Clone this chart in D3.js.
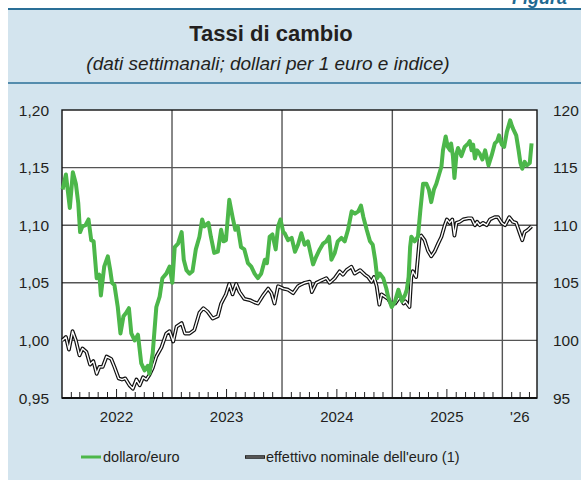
<!DOCTYPE html>
<html><head><meta charset="utf-8">
<script src="https://cdn.jsdelivr.net/npm/d3@7"></script>
<style>html,body{margin:0;padding:0;background:#fff;}svg{display:block;}</style>
</head><body>
<svg id="c" width="581" height="482"></svg>
<script>
const usdDates = ["2022-01-03","2022-01-14","2022-01-27","2022-02-06","2022-02-16","2022-02-24","2022-03-02","2022-03-10","2022-03-20","2022-03-30","2022-04-08","2022-04-16","2022-04-26","2022-05-05","2022-05-10","2022-05-21","2022-06-02","2022-06-10","2022-06-16","2022-06-24","2022-07-05","2022-07-14","2022-07-24","2022-08-02","2022-08-11","2022-08-19","2022-08-30","2022-09-10","2022-09-21","2022-10-02","2022-10-13","2022-10-18","2022-10-29","2022-11-10","2022-11-21","2022-11-30","2022-12-13","2022-12-24","2023-01-02","2023-01-10","2023-01-21","2023-02-02","2023-02-09","2023-02-18","2023-02-28","2023-03-10","2023-03-21","2023-04-02","2023-04-11","2023-04-18","2023-05-02","2023-05-10","2023-05-21","2023-06-02","2023-06-13","2023-06-21","2023-06-29","2023-07-10","2023-07-21","2023-07-30","2023-08-07","2023-08-18","2023-08-29","2023-09-10","2023-09-21","2023-10-02","2023-10-13","2023-10-24","2023-11-05","2023-11-12","2023-11-21","2023-11-30","2023-12-11","2023-12-19","2023-12-27","2024-01-05","2024-01-10","2024-01-21","2024-02-02","2024-02-13","2024-02-23","2024-03-05","2024-03-16","2024-03-27","2024-04-13","2024-04-24","2024-05-05","2024-05-16","2024-05-27","2024-06-05","2024-06-13","2024-06-24","2024-07-04","2024-07-16","2024-07-27","2024-08-07","2024-08-19","2024-08-30","2024-09-10","2024-09-19","2024-09-27","2024-10-08","2024-10-19","2024-10-28","2024-11-05","2024-11-12","2024-11-20","2024-12-02","2024-12-12","2024-12-18","2024-12-30","2025-01-10","2025-01-21","2025-02-02","2025-02-13","2025-02-18","2025-02-24","2025-03-01","2025-03-05","2025-03-16","2025-03-27","2025-04-04","2025-04-13","2025-04-24","2025-05-02","2025-05-10","2025-05-19","2025-05-27","2025-06-05","2025-06-13","2025-06-18","2025-06-27","2025-07-04","2025-07-12","2025-07-15","2025-07-21","2025-07-26","2025-08-02","2025-08-07","2025-08-18","2025-08-29","2025-09-10","2025-09-15","2025-09-21","2025-09-26","2025-10-02","2025-10-09","2025-10-18","2025-10-27","2025-11-05","2025-11-16","2025-11-27","2025-12-07","2025-12-15","2025-12-21","2025-12-30","2026-01-07","2026-01-16","2026-01-27","2026-02-02","2026-02-07","2026-02-16","2026-02-24","2026-03-02","2026-03-08","2026-03-16","2026-03-23","2026-04-02","2026-04-08"];
const usdRates = [1.131,1.144,1.115,1.146,1.136,1.119,1.094,1.099,1.100,1.105,1.087,1.086,1.054,1.057,1.039,1.064,1.073,1.061,1.050,1.048,1.029,1.006,1.021,1.024,1.028,1.006,1.000,1.005,0.980,0.974,0.978,0.971,0.989,1.029,1.038,1.054,1.058,1.064,1.050,1.081,1.084,1.094,1.070,1.061,1.058,1.060,1.079,1.090,1.105,1.099,1.102,1.090,1.076,1.077,1.096,1.086,1.087,1.122,1.107,1.096,1.099,1.081,1.079,1.067,1.064,1.058,1.054,1.058,1.070,1.067,1.090,1.092,1.079,1.099,1.105,1.094,1.093,1.087,1.089,1.077,1.083,1.093,1.083,1.086,1.066,1.073,1.079,1.084,1.086,1.090,1.070,1.076,1.086,1.089,1.086,1.096,1.112,1.110,1.112,1.117,1.107,1.096,1.086,1.083,1.070,1.054,1.058,1.054,1.045,1.038,1.029,1.034,1.044,1.034,1.040,1.044,1.055,1.081,1.090,1.086,1.090,1.113,1.136,1.136,1.131,1.120,1.131,1.136,1.144,1.151,1.165,1.177,1.168,1.165,1.171,1.160,1.141,1.162,1.167,1.160,1.168,1.171,1.173,1.165,1.170,1.158,1.165,1.162,1.157,1.165,1.152,1.161,1.171,1.173,1.178,1.170,1.168,1.181,1.191,1.186,1.183,1.178,1.165,1.154,1.149,1.155,1.152,1.154,1.171];

const neerDates = ["2022-01-02","2022-01-14","2022-01-24","2022-02-05","2022-02-16","2022-02-28","2022-03-10","2022-03-23","2022-04-04","2022-04-15","2022-04-26","2022-05-05","2022-05-16","2022-05-29","2022-06-13","2022-06-24","2022-07-08","2022-07-19","2022-07-30","2022-08-13","2022-08-24","2022-09-05","2022-09-16","2022-09-27","2022-10-08","2022-10-18","2022-10-29","2022-11-10","2022-11-27","2022-12-13","2022-12-24","2023-01-05","2023-01-16","2023-02-02","2023-02-13","2023-02-28","2023-03-16","2023-04-02","2023-04-15","2023-04-29","2023-05-16","2023-06-02","2023-06-13","2023-06-29","2023-07-10","2023-07-21","2023-08-02","2023-08-13","2023-08-29","2023-09-16","2023-10-02","2023-10-13","2023-10-30","2023-11-16","2023-11-27","2023-12-07","2023-12-19","2024-01-05","2024-01-21","2024-02-07","2024-02-23","2024-02-29","2024-03-16","2024-04-02","2024-04-09","2024-04-24","2024-05-10","2024-05-27","2024-06-07","2024-06-24","2024-07-10","2024-07-21","2024-08-02","2024-08-18","2024-08-29","2024-09-16","2024-10-02","2024-10-13","2024-10-24","2024-11-01","2024-11-10","2024-11-19","2024-11-26","2024-12-07","2024-12-18","2024-12-30","2025-01-10","2025-01-21","2025-01-27","2025-02-07","2025-02-13","2025-02-27","2025-03-05","2025-03-10","2025-03-21","2025-04-02","2025-04-07","2025-04-18","2025-04-29","2025-05-10","2025-05-21","2025-06-02","2025-06-13","2025-06-24","2025-07-01","2025-07-10","2025-07-19","2025-07-26","2025-08-02","2025-08-13","2025-08-24","2025-09-10","2025-09-21","2025-10-02","2025-10-09","2025-10-18","2025-10-29","2025-11-10","2025-11-21","2025-12-07","2025-12-18","2025-12-30","2026-01-10","2026-01-24","2026-02-05","2026-02-16","2026-02-28","2026-03-08","2026-03-16","2026-03-27","2026-04-08"];
const neerIndex = [100.0,100.3,99.2,100.8,100.0,98.7,99.3,99.0,97.9,98.2,97.1,97.7,97.7,98.6,98.4,97.7,96.7,96.6,96.7,96.1,95.8,96.6,96.1,96.8,96.6,97.0,97.6,98.6,99.4,100.6,100.8,99.9,101.2,101.5,100.6,100.6,100.9,102.4,102.8,102.5,101.9,102.1,103.2,104.0,104.9,104.0,104.9,104.2,103.6,103.5,103.3,103.2,103.9,104.5,104.1,103.2,104.7,104.5,104.4,104.1,104.7,104.8,105.0,105.1,104.2,105.0,105.2,105.4,105.0,105.4,106.0,105.7,106.1,106.4,105.8,106.1,105.7,105.5,105.1,105.5,104.7,103.1,104.0,103.8,103.6,103.1,103.2,103.6,103.8,103.2,103.4,102.9,105.5,106.0,105.5,109.0,109.1,108.7,107.8,107.3,107.7,108.4,109.0,110.0,110.5,110.2,110.5,109.1,110.2,110.3,110.5,110.6,110.6,110.0,110.3,110.0,110.2,110.0,110.5,110.7,110.7,110.2,110.0,110.7,110.3,110.2,109.3,108.7,109.4,109.6,109.9];

const leftTicks = [0.95,1.00,1.05,1.10,1.15,1.20];
const rightTicks = [95,100,105,110,115,120];
const gridYears = ["2023-01-01","2024-01-01","2025-01-01","2026-01-01"];
const yearLabels = ["2022","2023","2024","2025","'26"];
const yearLabelDates = ["2022-07-01","2023-07-01","2024-07-01","2025-07-01","2026-02-28"];
const legendLabels = ["dollaro/euro","effettivo nominale dell'euro (1)"];

const parse = d3.timeParse("%Y-%m-%d");
const svg = d3.select("#c");
const FONT = "'Liberation Sans', Arial, Helvetica, sans-serif";
const BLUE_BG = "#d3e4ee", BLUE_LINE = "#2a6f97", GREEN = "#4cb74a", TXT = "#231f20";

// panel
svg.append("rect").attr("x",0).attr("y",0).attr("width",581).attr("height",482).attr("fill","#fff");
svg.append("rect").attr("x",8).attr("y",9).attr("width",573).attr("height",471).attr("fill",BLUE_BG);
svg.append("line").attr("x1",8).attr("x2",581).attr("y1",9).attr("y2",9).attr("stroke",BLUE_LINE).attr("stroke-width",2.2);
svg.append("line").attr("x1",8).attr("x2",581).attr("y1",83).attr("y2",83).attr("stroke",BLUE_LINE).attr("stroke-width",1.6);
svg.append("text").attr("x",512).attr("y",4).attr("font-family",FONT).attr("font-size",18).attr("font-weight","bold").attr("font-style","italic").attr("fill","#1f6a92").text("Figura");

svg.append("text").attr("x",271).attr("y",41).attr("text-anchor","middle").attr("font-family",FONT).attr("font-size",22).attr("font-weight","bold").attr("fill",TXT).text("Tassi di cambio");
svg.append("text").attr("x",268).attr("y",70).attr("text-anchor","middle").attr("font-family",FONT).attr("font-size",19).attr("font-style","italic").attr("fill",TXT).text("(dati settimanali; dollari per 1 euro e indice)");

const L = 62, R = 537, T = 110, B = 398;
const x = d3.scaleTime().domain([parse("2022-01-01"), parse("2026-04-26")]).range([L, R]);
const yL = d3.scaleLinear().domain([0.95, 1.20]).range([B, T]);
const yR = d3.scaleLinear().domain([95, 120]).range([B, T]);

svg.append("rect").attr("x",L).attr("y",T).attr("width",R-L).attr("height",B-T).attr("fill","#fff");

// grid
const g = svg.append("g");
g.selectAll("line.h").data(leftTicks.slice(1,-1)).enter().append("line")
  .attr("x1",L).attr("x2",R).attr("y1",d=>yL(d)).attr("y2",d=>yL(d))
  .attr("stroke","#555").attr("stroke-width",1.4);
g.selectAll("line.v").data(gridYears).enter().append("line")
  .attr("x1",d=>x(parse(d))).attr("x2",d=>x(parse(d))).attr("y1",T).attr("y2",B)
  .attr("stroke","#555").attr("stroke-width",1.4);

// monthly ticks
const months = d3.timeMonth.range(parse("2022-02-01"), parse("2026-04-26"));
g.selectAll("line.t").data(months.filter(m=>m.getMonth()!==0)).enter().append("line")
  .attr("x1",d=>x(d)).attr("x2",d=>x(d)).attr("y1",B).attr("y2",d=>B-(d.getMonth()===6?9:6))
  .attr("stroke","#222").attr("stroke-width",1);

// frame
svg.append("rect").attr("x",L).attr("y",T).attr("width",R-L).attr("height",B-T).attr("fill","none").attr("stroke","#111").attr("stroke-width",1.4);
svg.append("line").attr("x1",L).attr("x2",R).attr("y1",B).attr("y2",B).attr("stroke","#111").attr("stroke-width",2);

// axes labels
const fmt = d => d3.format(".2f")(d).replace(".", ",");
svg.selectAll("text.yl").data(leftTicks).enter().append("text")
  .attr("x",49).attr("y",d=>yL(d)+5.5).attr("text-anchor","end").attr("font-family",FONT).attr("font-size",15.5).attr("fill",TXT).text(fmt);
svg.selectAll("text.yr").data(rightTicks).enter().append("text")
  .attr("x",553).attr("y",d=>yR(d)+5.5).attr("text-anchor","start").attr("font-family",FONT).attr("font-size",15.5).attr("fill",TXT).text(d=>d);
svg.selectAll("text.xl").data(yearLabels).enter().append("text")
  .attr("x",(d,i)=>x(parse(yearLabelDates[i]))).attr("y",422).attr("text-anchor","middle").attr("font-family",FONT).attr("font-size",15).attr("fill",TXT).text(d=>d);

// series
const neer = neerDates.map((d,i)=>({d:parse(d), v:neerIndex[i]}));
const usd = usdDates.map((d,i)=>({d:parse(d), v:usdRates[i]}));
const lineN = d3.line().x(p=>x(p.d)).y(p=>yR(p.v));
const lineU = d3.line().x(p=>x(p.d)).y(p=>yL(p.v));
svg.append("path").attr("d",lineN(neer)).attr("fill","none").attr("stroke","#111").attr("stroke-width",3.8).attr("stroke-linejoin","round");
svg.append("path").attr("d",lineN(neer)).attr("fill","none").attr("stroke","#fff").attr("stroke-width",1.4).attr("stroke-linejoin","round");
svg.append("path").attr("d",lineU(usd)).attr("fill","none").attr("stroke",GREEN).attr("stroke-width",4).attr("stroke-linejoin","round");

// legend
svg.append("line").attr("x1",81).attr("x2",101).attr("y1",457).attr("y2",457).attr("stroke",GREEN).attr("stroke-width",3);
svg.append("text").attr("x",103).attr("y",462).attr("font-family",FONT).attr("font-size",14.5).attr("fill",TXT).text(legendLabels[0]);
svg.append("line").attr("x1",245).attr("x2",265).attr("y1",457).attr("y2",457).attr("stroke","#222").attr("stroke-width",3.6);
svg.append("line").attr("x1",246).attr("x2",264).attr("y1",457).attr("y2",457).attr("stroke","#888").attr("stroke-width",1);
svg.append("text").attr("x",266).attr("y",462).attr("font-family",FONT).attr("font-size",14.5).attr("fill",TXT).text(legendLabels[1]);
</script>
</body></html>
